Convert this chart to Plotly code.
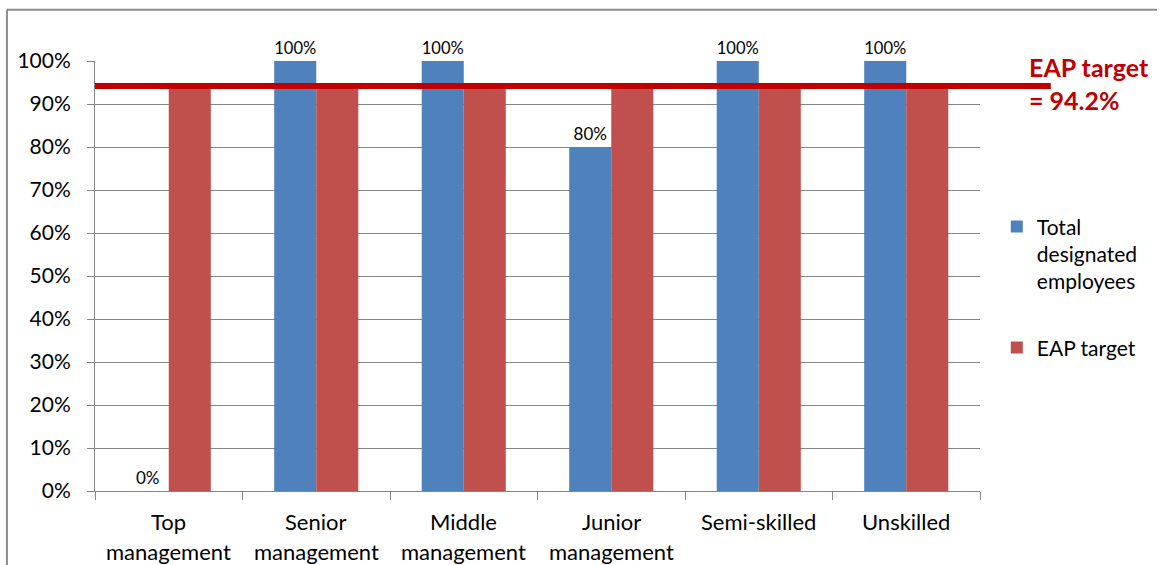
import plotly.graph_objects as go

# Occupational levels (first / second line of each axis label)
categories = ["Top management", "Senior management", "Middle management",
              "Junior management", "Semi-skilled", "Unskilled"]
label_line1 = ["Top", "Senior", "Middle", "Junior", "Semi-skilled", "Unskilled"]
label_line2 = ["management", "management", "management", "management", "", ""]

# Share of designated employees per level and the EAP target
designated = [0.0, 1.0, 1.0, 0.8, 1.0, 1.0]
eap_value = 0.942
eap_target = [eap_value] * len(categories)

BLUE = "#4F81BD"
RED = "#C0504D"
DARK_RED = "#C00000"
GRID = "#868686"
FONT = "Lato"

fig = go.Figure()
fig.add_trace(go.Bar(
    x=categories, y=designated, name="Total<br>designated<br>employees",
    marker=dict(color=BLUE, line=dict(width=0)),
    text=[f"{v:.0%}" for v in designated], textposition="outside",
    textfont=dict(size=17, color="#000000", family=FONT),
    cliponaxis=False, legendgroup="a",
))
fig.add_trace(go.Bar(
    x=categories, y=eap_target, name="EAP target",
    marker=dict(color=RED, line=dict(width=0)),
    legendgroup="b",
))

# Category labels as two stacked lines
annotations = []
for cat, l1, l2 in zip(categories, label_line1, label_line2):
    annotations.append(dict(x=cat, y=0, yref="paper", text=l1, showarrow=False,
                            yanchor="middle", yshift=-30,
                            font=dict(size=22, family=FONT, color="#000000")))
    if l2:
        annotations.append(dict(x=cat, y=0, yref="paper", text=l2, showarrow=False,
                                yanchor="middle", yshift=-60,
                                font=dict(size=22, family=FONT, color="#000000")))

# Target callout, two lines
annotations.append(dict(
    x=1.053, xref="paper", y=0.986, yref="paper", xanchor="left", yanchor="middle",
    text="<b>EAP target</b>", showarrow=False,
    font=dict(size=25, family=FONT, color=DARK_RED),
))
annotations.append(dict(
    x=1.053, xref="paper", y=0.909, yref="paper", xanchor="left", yanchor="middle",
    text=f"<b>= {eap_value * 100:.1f}%</b>", showarrow=False,
    font=dict(size=25, family=FONT, color=DARK_RED),
))

shapes = [
    # target line across the plot
    dict(type="line", xref="paper", yref="y", x0=0, x1=1.08,
         y0=eap_value, y1=eap_value, line=dict(color=DARK_RED, width=6), layer="above"),
    # chart frame (top and left edges)
    dict(type="line", xref="paper", yref="paper", x0=-0.0995, x1=1.2,
         y0=1.119, y1=1.119, line=dict(color="#8C8C8C", width=2)),
    dict(type="line", xref="paper", yref="paper", x0=-0.0995, x1=-0.0995,
         y0=1.119, y1=-0.2, line=dict(color="#8C8C8C", width=2)),
]

fig.update_layout(
    width=1163, height=565,
    margin=dict(l=95, r=183, t=61, b=74),
    paper_bgcolor="white", plot_bgcolor="white",
    barmode="group", bargap=0.43, bargroupgap=0,
    font=dict(family=FONT, size=21, color="#000000"),
    showlegend=True,
    legend=dict(x=1.019, y=0.662, xanchor="left", yanchor="top",
                traceorder="grouped", tracegroupgap=36, valign="top",
                font=dict(size=21, family=FONT, color="#000000"),
                itemwidth=30, bgcolor="rgba(0,0,0,0)"),
    annotations=annotations,
    shapes=shapes,
    xaxis=dict(showticklabels=False, ticks="outside", tickson="boundaries",
               ticklen=8, tickcolor=GRID, showline=True, linecolor=GRID,
               linewidth=1, showgrid=False),
    yaxis=dict(range=[0, 1], dtick=0.1, tickformat=".0%", ticks="outside",
               ticklen=7, tickcolor=GRID, showline=True, linecolor=GRID,
               linewidth=1, showgrid=True, gridcolor=GRID, gridwidth=1,
               zeroline=False, ticklabelstandoff=12,
               tickfont=dict(size=21, family=FONT, color="#000000")),
)

fig.write_html("out.html")
